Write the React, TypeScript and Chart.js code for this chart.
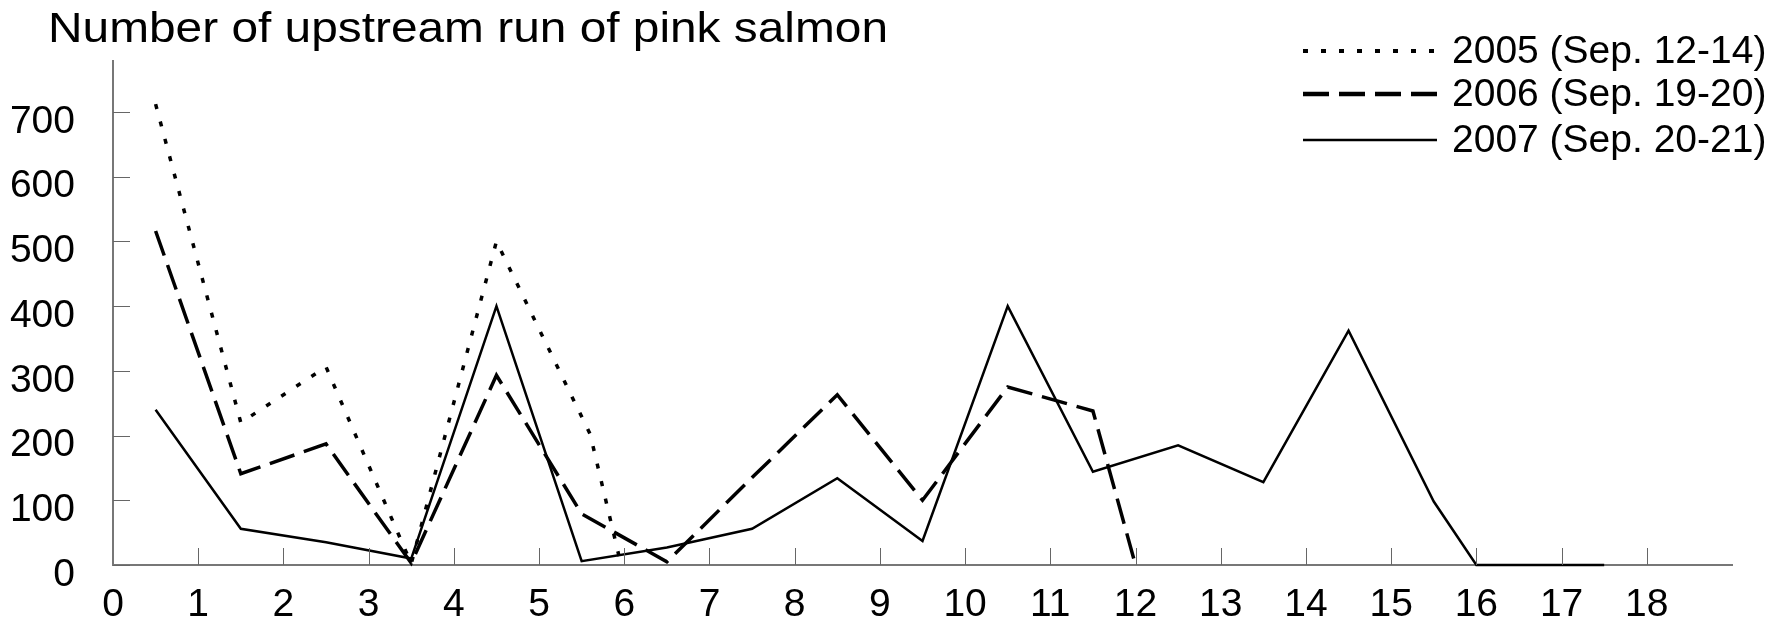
import React, { useEffect, useRef } from 'react';
import { Chart, registerables } from 'chart.js';

Chart.register(...registerables);

const titleText = 'Number of upstream run of pink salmon';
const seriesLabels = ['2005 (Sep. 12-14)', '2006 (Sep. 19-20)', '2007 (Sep. 20-21)'];

const x2005 = [0.5, 1.5, 2.5, 3.5, 4.5, 5.6, 5.97];
const y2005 = [712, 220, 306, 2, 500, 202, -4];

const x2006 = [0.5, 1.5, 2.5, 3.5, 4.5, 5.5, 6.5, 7.5, 8.5, 9.5, 10.5, 11.5, 12];
const y2006 = [516, 141, 187, 3, 293, 79, 5, 135, 263, 100, 275, 238, 0];

const x2007 = [0.5, 1.5, 2.5, 3.5, 4.5, 5.5, 6.5, 7.5, 8.5, 9.5, 10.5, 11.5, 12.5, 13.5, 14.5, 15.5, 16, 17.5];
const y2007 = [240, 56, 35, 10, 400, 6, 27, 56, 134, 37, 400, 144, 185, 128, 362, 98, 0, 0];

const xTickValues = [0, 1, 2, 3, 4, 5, 6, 7, 8, 9, 10, 11, 12, 13, 14, 15, 16, 17, 18];
const yTickValues = [0, 100, 200, 300, 400, 500, 600, 700];
const xMin = 0;
const xMax = 19;
const yMin = 0;
const yMax = 778;

const tickFont = { family: '"Liberation Sans", Arial, sans-serif', size: 39 };

const toPoints = (xs: number[], ys: number[]) => xs.map((x, i) => ({ x, y: ys[i] }));

const decorPlugin = {
  id: 'decor',
  afterDatasetsDraw(chart: any) {
    const { ctx, scales } = chart;
    const xs = scales.x;
    const ys = scales.y;
    ctx.save();
    // inner tick marks
    ctx.strokeStyle = '#666';
    ctx.lineWidth = 1;
    xTickValues.forEach((v) => {
      if (v === xMin) return;
      const px = Math.round(xs.getPixelForValue(v)) + 0.5;
      ctx.beginPath();
      ctx.moveTo(px, ys.bottom);
      ctx.lineTo(px, ys.bottom - 17);
      ctx.stroke();
    });
    yTickValues.forEach((v) => {
      const py = Math.round(ys.getPixelForValue(v)) + 0.5;
      ctx.beginPath();
      ctx.moveTo(xs.left, py);
      ctx.lineTo(xs.left + 17, py);
      ctx.stroke();
    });
    // title (slightly wide lettering)
    ctx.save();
    ctx.fillStyle = '#000';
    ctx.font = '42px "Liberation Sans", Arial, sans-serif';
    ctx.textAlign = 'left';
    ctx.textBaseline = 'alphabetic';
    const natural = ctx.measureText(titleText).width;
    const sx = 840 / natural;
    ctx.translate(48, 42);
    ctx.scale(sx, 1);
    ctx.fillText(titleText, 0, 0);
    ctx.restore();
    // legend
    const rowY = [51, 94, 140];
    chart.data.datasets.forEach((ds: any, i: number) => {
      const y = rowY[i];
      ctx.save();
      ctx.strokeStyle = '#000';
      ctx.lineWidth = ds.legendWidth;
      ctx.setLineDash(ds.borderDash || []);
      ctx.lineCap = 'butt';
      ctx.beginPath();
      ctx.moveTo(1303, y);
      ctx.lineTo(1437, y);
      ctx.stroke();
      ctx.restore();
      ctx.fillStyle = '#000';
      ctx.font = '39px "Liberation Sans", Arial, sans-serif';
      ctx.textAlign = 'left';
      ctx.textBaseline = 'middle';
      ctx.fillText(ds.label, 1452, y + 1);
    });
    ctx.restore();
  },
};

export default function App() {
  const canvasRef = useRef<HTMLCanvasElement | null>(null);

  useEffect(() => {
    if (!canvasRef.current) return;
    const chart = new Chart(canvasRef.current, {
      type: 'line',
      data: {
        datasets: [
          {
            label: seriesLabels[0],
            data: toPoints(x2005, y2005),
            borderColor: '#000',
            borderWidth: 3.5,
            borderDash: [5, 13],
            legendWidth: 4,
            pointRadius: 0,
            fill: false,
            clip: false,
          } as any,
          {
            label: seriesLabels[1],
            data: toPoints(x2006, y2006),
            borderColor: '#000',
            borderWidth: 3.5,
            borderDash: [26, 10],
            legendWidth: 4.5,
            pointRadius: 0,
            fill: false,
            clip: false,
          } as any,
          {
            label: seriesLabels[2],
            data: toPoints(x2007, y2007),
            borderColor: '#000',
            borderWidth: 2.5,
            borderDash: [],
            legendWidth: 2.5,
            pointRadius: 0,
            fill: false,
            clip: false,
          } as any,
        ],
      },
      options: {
        animation: false,
        responsive: false,
        layout: { padding: { left: 0, right: 57, top: 56, bottom: 0 } },
        plugins: {
          legend: { display: false },
          title: { display: false },
          tooltip: { enabled: false },
        },
        elements: { line: { tension: 0 }, point: { radius: 0 } },
        scales: {
          x: {
            type: 'linear',
            min: xMin,
            max: xMax,
            afterFit: (s: any) => {
              s.height = 64;
            },
            afterBuildTicks: (s: any) => {
              s.ticks = xTickValues.map((v) => ({ value: v }));
            },
            grid: { display: false, drawTicks: false },
            border: { display: true, color: '#777', width: 2 },
            ticks: {
              padding: 17,
              font: tickFont,
              color: '#000',
              autoSkip: false,
              maxRotation: 0,
              callback: (v: any) => String(v),
            },
          },
          y: {
            type: 'linear',
            min: yMin,
            max: yMax,
            afterFit: (s: any) => {
              s.width = 113;
            },
            afterBuildTicks: (s: any) => {
              s.ticks = yTickValues.map((v) => ({ value: v }));
            },
            grid: { display: false, drawTicks: false },
            border: { display: true, color: '#777', width: 2 },
            ticks: {
              padding: 38,
              labelOffset: 10,
              font: tickFont,
              color: '#000',
              autoSkip: false,
              callback: (v: any) => String(v),
            },
          },
        },
      },
      plugins: [decorPlugin],
    });
    return () => chart.destroy();
  }, []);

  return (
    <div style={{ position: 'absolute', left: 0, top: 0, width: 1789, height: 629, background: '#fff' }}>
      <canvas ref={canvasRef} width={1789} height={629} style={{ display: 'block' }} />
    </div>
  );
}
